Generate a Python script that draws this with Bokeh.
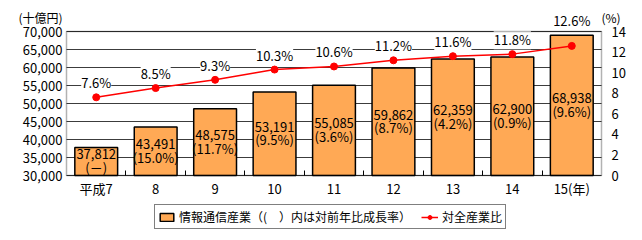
from bokeh.plotting import figure
from bokeh.models import (ColumnDataSource, Range1d, LinearAxis, FixedTicker,
                          NumeralTickFormatter, LabelSet, Label, Legend, LegendItem,
                          BoxAnnotation)
from bokeh.core.properties import value
from bokeh.embed import file_html
from bokeh.resources import INLINE

# ---- data ----
years = ["平成7", "8", "9", "10", "11", "12", "13", "14", "15(年)"]
values = [37812, 43491, 48575, 53191, 55085, 59862, 62359, 62900, 68938]
growth = ["(－)", "(15.0%)", "(11.7%)", "(9.5%)", "(3.6%)", "(8.7%)", "(4.2%)", "(0.9%)", "(9.6%)"]
ratio = [7.6, 8.5, 9.3, 10.3, 10.6, 11.2, 11.6, 11.8, 12.6]
left_ticks = [30000, 35000, 40000, 45000, 50000, 55000, 60000, 65000, 70000]
right_ticks = [0, 2, 4, 6, 8, 10, 12, 14]
left_unit = "(十億円)"
right_unit = "(%)"
legend_bar = "情報通信産業（(　）内は対前年比成長率）"
legend_line = "対全産業比"

FONT = "Noto Sans CJK JP"
BAR = "#FFA955"
RED = "#FF0000"
GRID = "#3c3c3c"

# ---- layout constants (pixels) ----
W, H = 642, 240
BOX_L, BOX_R, BOX_T, BOX_B = 66, 601, 31, 175   # value box in page pixels
LBL_GAP = 5                                      # ratio label gap above its point

n = len(years)
xs = list(range(1, n + 1))
x0, x1 = 0.5, n + 0.5
lo, hi = left_ticks[0], left_ticks[-1]
rlo, rhi = right_ticks[0], right_ticks[-1]

xpp = (x1 - x0) / (BOX_R - BOX_L)
lpp = (hi - lo) / (BOX_B - BOX_T)
rpp = (rhi - rlo) / (BOX_B - BOX_T)
x_range = Range1d(x0 - BOX_L * xpp, x1 + (W - BOX_R) * xpp)
y_range = Range1d(lo - (H - BOX_B) * lpp, hi + BOX_T * lpp)
r_range = Range1d(rlo - (H - BOX_B) * rpp, rhi + BOX_T * rpp)

# ratio labels sit above the point, or above the bar top when the bar is higher
r_off = [max(LBL_GAP, (v - lo) / lpp - (r - rlo) / rpp + LBL_GAP) for v, r in zip(values, ratio)]

src = ColumnDataSource(dict(
    x=xs, top=values, mid=[(v + lo) / 2 for v in values],
    vlabel=[f"{v:,}" for v in values], glabel=growth,
    r=ratio, rlabel=[f"{r}%" for r in ratio], roff=r_off,
))

p = figure(width=W, height=H, output_backend="svg", toolbar_location=None,
           x_range=x_range, y_range=y_range, x_axis_location=None, y_axis_location=None,
           min_border=0, min_border_left=0, min_border_right=0,
           min_border_top=0, min_border_bottom=0)
p.extra_y_ranges = {"pct": r_range}
p.outline_line_color = None
p.background_fill_color = "white"
p.border_fill_color = "white"
p.xgrid.visible = False
p.ygrid.visible = False

def style_axis(ax):
    ax.axis_line_color = None
    ax.major_tick_in = 0
    ax.major_tick_out = 0
    ax.minor_tick_line_color = None
    ax.major_label_text_font = FONT
    ax.major_label_text_font_size = "13px"
    ax.major_label_text_color = "black"

# x axis fixed at the bottom of the value box
xa = LinearAxis(fixed_location=lo,
                ticker=FixedTicker(ticks=xs, minor_ticks=[i + 0.5 for i in range(1, n)]))
style_axis(xa)
xa.major_label_overrides = {i: lab for i, lab in zip(xs, years)}
xa.minor_tick_line_color = "black"
xa.minor_tick_in = 5
xa.minor_tick_out = 0
xa.major_label_standoff = 3
p.add_layout(xa, "below")

# left axis
ya = LinearAxis(fixed_location=x0, ticker=FixedTicker(ticks=left_ticks),
                formatter=NumeralTickFormatter(format="0,0"))
style_axis(ya)
ya.major_label_standoff = 4
p.add_layout(ya, "left")

# right axis
ra = LinearAxis(fixed_location=x1, y_range_name="pct", ticker=FixedTicker(ticks=right_ticks))
style_axis(ra)
ra.major_label_standoff = 10
p.add_layout(ra, "right")

# gridlines inside the value box
p.segment(x0=[x0] * len(left_ticks), x1=[x1] * len(left_ticks),
          y0=left_ticks, y1=left_ticks, line_color=GRID, line_width=1)

# bars
bars = p.vbar(x="x", top="top", bottom=lo, width=0.72, source=src,
              fill_color=BAR, line_color="black", line_width=1.5)

# value box outline
p.add_layout(BoxAnnotation(left=x0, right=x1, bottom=lo, top=hi,
                           fill_color=None, fill_alpha=0, line_color="black",
                           line_width=1.5, level="overlay"))

# bar labels
for col, off in (("vlabel", 7), ("glabel", -6)):
    p.add_layout(LabelSet(x="x", y="mid", text=col, source=src, y_offset=off,
                          text_align="center", text_baseline="middle",
                          text_font=value(FONT), text_font_size=value("13px"),
                          text_color="black"))

# ratio line
ln = p.line(x="x", y="r", source=src, y_range_name="pct", line_color=RED, line_width=1.5)
pts = p.scatter(x="x", y="r", source=src, y_range_name="pct", size=7,
                fill_color=RED, line_color=RED)
p.add_layout(LabelSet(x="x", y="r", text="rlabel", source=src, y_range_name="pct",
                      y_offset="roff", text_align="center", text_baseline="bottom",
                      text_font=value(FONT), text_font_size=value("13px"),
                      text_color="black", background_fill_color="white"))

# unit labels above the value box
p.add_layout(Label(x=x0, y=hi, text=left_unit, x_offset=-4, y_offset=14,
                   text_align="right", text_baseline="middle",
                   text_font=FONT, text_font_size="12px", text_color="black"))
p.add_layout(Label(x=x1, y=hi, text=right_unit, x_offset=0, y_offset=14,
                   text_align="left", text_baseline="middle",
                   text_font=FONT, text_font_size="12px", text_color="black"))

# legend
legend = Legend(items=[
    LegendItem(label=legend_bar, renderers=[bars]),
    LegendItem(label=legend_line, renderers=[ln, pts]),
], orientation="horizontal", location=(154, H - 229))
legend.label_text_font = FONT
legend.label_text_font_size = "12px"
legend.label_text_color = "black"
legend.border_line_color = "black"
legend.border_line_width = 1.5
legend.background_fill_color = "white"
legend.background_fill_alpha = 1
legend.glyph_width = 17
legend.glyph_height = 10
legend.spacing = 10
legend.padding = 3
legend.margin = 0
legend.label_standoff = 4
legend.label_height = 12
p.add_layout(legend, "center")

open("out.html", "w").write(file_html(p, INLINE))
